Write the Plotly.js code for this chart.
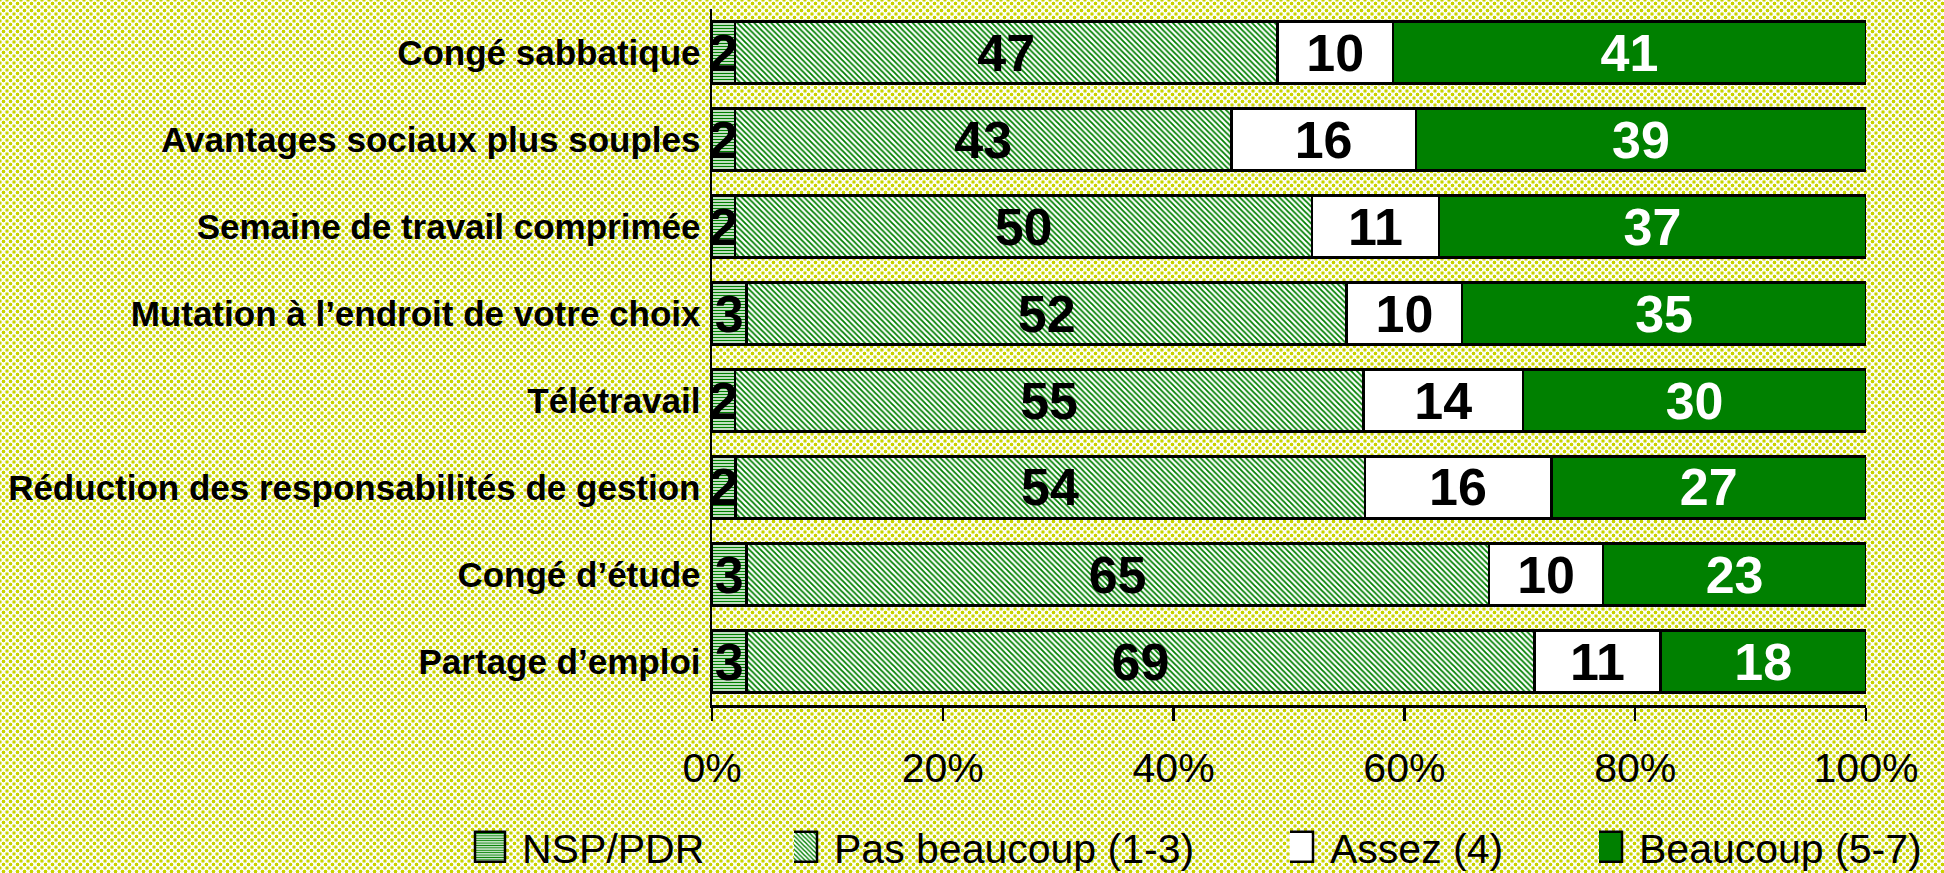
<!DOCTYPE html>
<html>
<head>
<meta charset="utf-8">
<script src="https://cdn.plot.ly/plotly-3.0.1.min.js"></script>
<style>
  html, body { margin: 0; padding: 0; }
  body {
    width: 1944px; height: 873px; overflow: hidden;
    background-color: #ffffff;
    background-image:
      radial-gradient(circle, #c8d300 1.5px, rgba(200,211,0,0) 2.2px),
      radial-gradient(circle, #c8d300 1.5px, rgba(200,211,0,0) 2.2px);
    background-size: 7px 7px, 7px 7px;
    background-position: 0 0, 3.5px 3.5px;
  }
  #chart { width: 1944px; height: 873px; }
</style>
</head>
<body>
<div id="chart"></div>
<script>
// ---- Data ----
const categories = [
  'Congé sabbatique',
  'Avantages sociaux plus souples',
  'Semaine de travail comprimée',
  'Mutation à l’endroit de votre choix',
  'Télétravail',
  'Réduction des responsabilités de gestion',
  'Congé d’étude',
  'Partage d’emploi'
];
const nspPdr      = [2, 2, 2, 3, 2, 2, 3, 3];
const pasBeaucoup = [47, 43, 50, 52, 55, 54, 65, 69];
const assez       = [10, 16, 11, 10, 14, 16, 10, 11];
const beaucoup    = [41, 39, 37, 35, 30, 27, 23, 18];
const seriesNames = ['NSP/PDR', 'Pas beaucoup (1-3)', 'Assez (4)', 'Beaucoup (5-7)'];
const xTickVals   = [0, 20, 40, 60, 80, 100];
const xTickText   = ['0%', '20%', '40%', '60%', '80%', '100%'];

// ---- Styling ----
const FONT = 'Liberation Sans, Arial, Helvetica, sans-serif';
const GREEN = '#008000';
const lineStyle = { color: '#000000', width: 2.5 };
const valueFontSize = 52;

function barTrace(values, name, marker, textColor, legendId) {
  return {
    type: 'bar',
    orientation: 'h',
    y: categories,
    x: values,
    name: name,
    text: values.map(String),
    texttemplate: '%{text}',
    textposition: 'inside',
    insidetextanchor: 'middle',
    constraintext: 'none',
    textangle: 0,
    textfont: { family: FONT, size: valueFontSize, color: textColor, weight: 'bold' },
    marker: Object.assign({ line: lineStyle }, marker),
    hoverinfo: 'skip',
    legend: legendId
  };
}

const traces = [
  barTrace(nspPdr, seriesNames[0], {
    color: '#ffffff',
    pattern: { shape: '-', fgcolor: GREEN, bgcolor: '#ffffff', size: 3, solidity: 0.5, fillmode: 'replace' }
  }, '#000000', 'legend'),
  barTrace(pasBeaucoup, seriesNames[1], {
    color: '#ffffff',
    pattern: { shape: '\\', fgcolor: GREEN, bgcolor: '#ffffff', size: 4, solidity: 0.45, fillmode: 'replace' }
  }, '#000000', 'legend2'),
  barTrace(assez, seriesNames[2], { color: '#ffffff' }, '#000000', 'legend3'),
  barTrace(beaucoup, seriesNames[3], { color: GREEN }, '#ffffff', 'legend4')
];

function legendAt(xPx) {
  return {
    xref: 'container', yref: 'container',
    x: xPx / 1944, y: 1 - 847 / 873,
    xanchor: 'left', yanchor: 'middle',
    orientation: 'h',
    bgcolor: 'rgba(0,0,0,0)', borderwidth: 0,
    font: { family: FONT, size: 41, color: '#000000' }
  };
}

const layout = {
  width: 1944, height: 873,
  paper_bgcolor: 'rgba(0,0,0,0)',
  plot_bgcolor: 'rgba(0,0,0,0)',
  margin: { l: 712, r: 78, t: 9, b: 168, autoexpand: false },
  barmode: 'stack',
  barnorm: 'percent',
  bargap: 0.29,
  showlegend: true,
  legend: legendAt(482),
  legend2: legendAt(794),
  legend3: legendAt(1290),
  legend4: legendAt(1599),
  xaxis: {
    range: [0, 100],
    tickvals: xTickVals,
    ticktext: xTickText,
    ticks: 'outside', ticklen: 13, tickwidth: 2.5, tickcolor: '#000000',
    showline: true, linecolor: '#000000', linewidth: 2.5,
    showgrid: false, zeroline: false,
    ticklabelstandoff: 12,
    tickfont: { family: FONT, size: 41, color: '#000000' },
    fixedrange: true
  },
  yaxis: {
    type: 'category',
    categoryorder: 'array',
    categoryarray: categories,
    autorange: 'reversed',
    ticks: '',
    showline: true, linecolor: '#000000', linewidth: 2.5,
    showgrid: false, zeroline: false,
    ticklabelstandoff: 2,
    tickfont: { family: FONT, size: 35, color: '#000000', weight: 'bold' },
    fixedrange: true
  }
};

Plotly.newPlot('chart', traces, layout, { displayModeBar: false, staticPlot: true }).then(function (gd) {
  // let the enlarged legend swatches show fully
  gd.querySelectorAll('.legend [clip-path], .legend[clip-path]').forEach(function (e) {
    e.removeAttribute('clip-path');
  });
  // enlarge legend swatches to match the reference's big square keys
  gd.querySelectorAll('.legendpoints path').forEach(function (p) {
    p.setAttribute('d', 'M3,15H-27V-15H3Z');
    p.style.strokeWidth = '2.5px';
    p.style.stroke = '#000000';
  });
});
</script>
</body>
</html>
